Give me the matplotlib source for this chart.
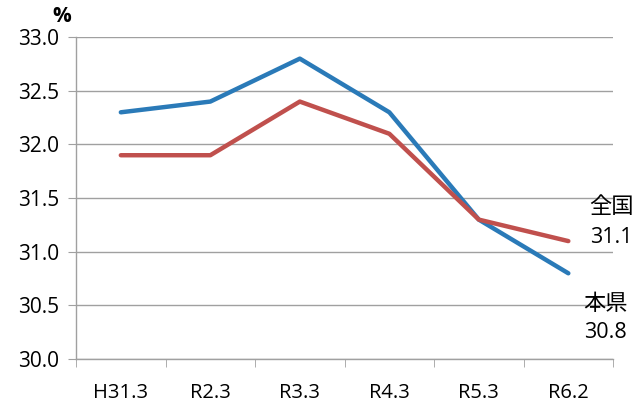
import matplotlib
matplotlib.use("Agg")
import matplotlib.pyplot as plt
import numpy as np

plt.rcParams['font.family'] = ['Open Sans', 'Noto Sans CJK JP']

# data
periods = ["H31.3", "R2.3", "R3.3", "R4.3", "R5.3", "R6.2"]
honken = [32.3, 32.4, 32.8, 32.3, 31.3, 30.8]   # 本県
zenkoku = [31.9, 31.9, 32.4, 32.1, 31.3, 31.1]  # 全国

fig = plt.figure(figsize=(6.34, 4.04), dpi=100)
ax = fig.add_axes([0.12, 0.111, 0.847, 0.797])

xs = np.arange(len(periods))
ax.plot(xs, honken, color="#2A7AB8", lw=3.2, solid_capstyle="round", zorder=3)
ax.plot(xs, zenkoku, color="#C0504D", lw=3.2, solid_capstyle="round", zorder=3)

ax.set_xlim(-0.5, len(periods) - 0.5)
ax.set_ylim(30.0, 33.0)
yt = np.arange(30.0, 33.01, 0.5)
ax.set_yticks(yt)
ax.set_yticklabels([f"{v:.1f}" for v in yt], fontsize=15)
ax.set_xticks(xs)
ax.set_xticklabels(periods, fontsize=14.5)
ax.set_xticks(np.arange(-0.5, len(periods), 1.0), minor=True)
ax.tick_params(axis="x", which="major", length=0, pad=17)
ax.tick_params(axis="x", which="minor", length=6, color="#A0A0A0", direction="out")
ax.tick_params(axis="y", length=6, color="#A0A0A0", pad=6)
ax.yaxis.grid(True, color="#A0A0A0", lw=1)
ax.set_axisbelow(True)
for s in ["top", "right"]:
    ax.spines[s].set_visible(False)
for s in ["left", "bottom"]:
    ax.spines[s].set_color("#A0A0A0")
    ax.spines[s].set_linewidth(1)

fig.text(0.098, 0.958, "%", fontsize=15, fontweight="bold", ha="center", va="center")

# end labels
ax.text(5.48, 31.41, "全国", fontsize=16, ha="center", va="center", clip_on=False)
ax.text(5.48, 31.13, "31.1", fontsize=15.5, ha="center", va="center", clip_on=False)
ax.text(5.41, 30.51, "本県", fontsize=16, ha="center", va="center", clip_on=False)
ax.text(5.41, 30.25, "30.8", fontsize=15.5, ha="center", va="center", clip_on=False)

fig.savefig("out.png", dpi=100)
